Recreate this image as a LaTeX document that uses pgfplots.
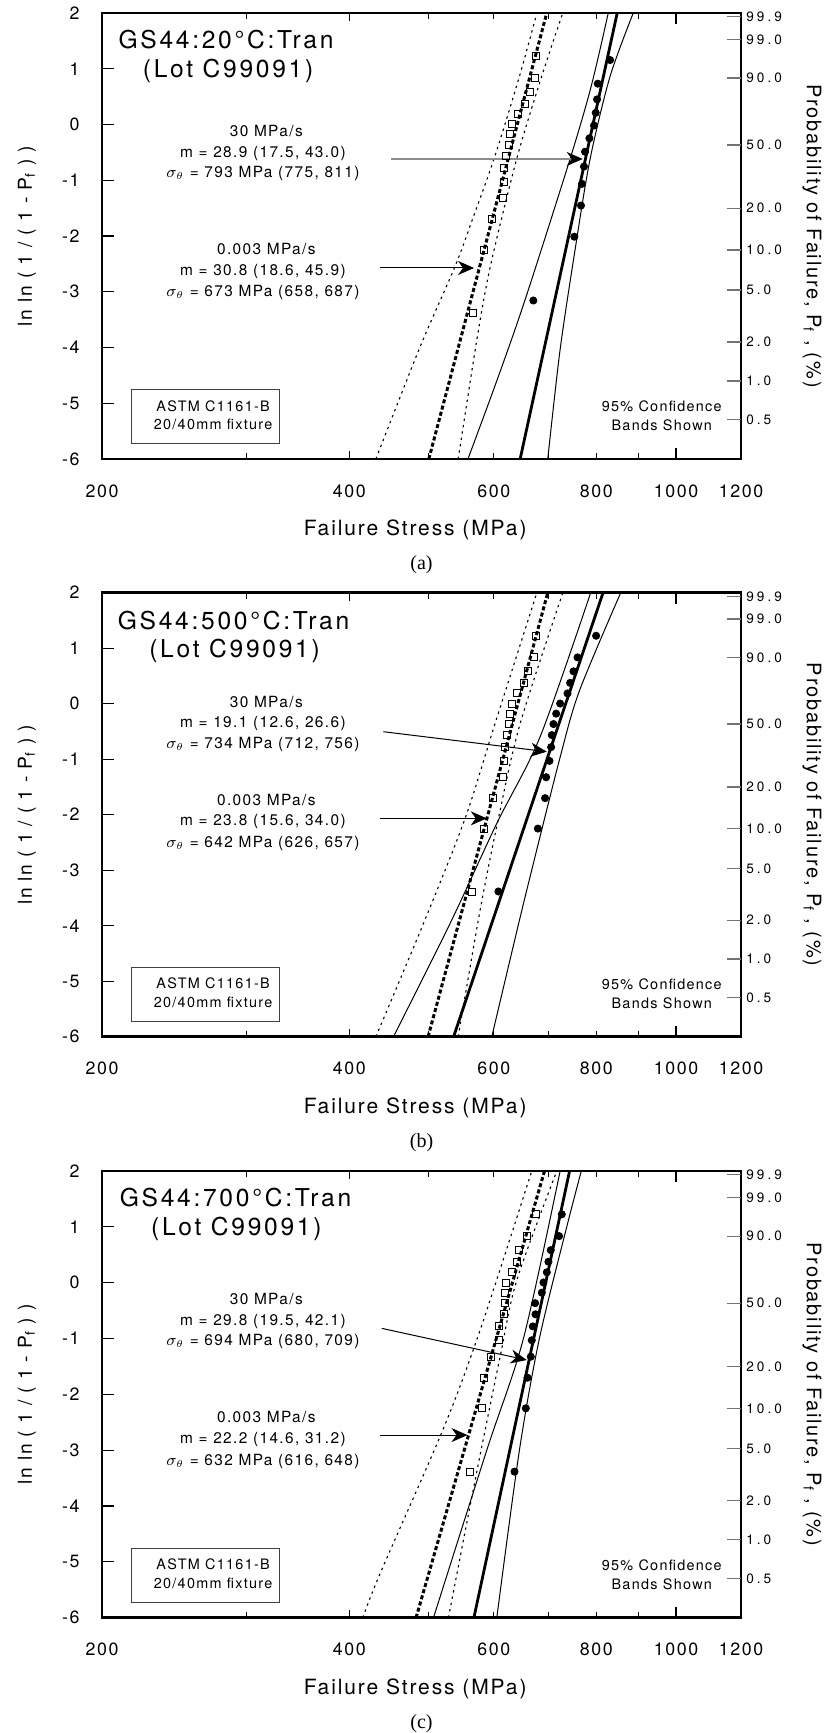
\documentclass[border=0pt]{standalone}
\usepackage{fontspec}
\setmainfont{TeX Gyre Heros}[LetterSpace=9]
\newfontfamily\widefont{TeX Gyre Heros}[LetterSpace=22]
\newfontfamily\titlefamily{TeX Gyre Heros}[LetterSpace=11]
\newfontfamily\seriffont{Liberation Serif}
\usepackage{pgfplots}
\pgfplotsset{compat=1.18}
\usetikzlibrary{arrows.meta}

\newcommand\tickfont{\fontsize{8.9}{10}\selectfont}
\newcommand\rtickfont{\widefont\fontsize{6.8}{8}\selectfont}
\newcommand\xlabfont{\fontsize{10.5}{12}\selectfont}
\newcommand\ylabfont{\fontsize{9.6}{12}\selectfont}
\newcommand\rlabfont{\fontsize{10}{12}\selectfont}
\newcommand\titfont{\titlefamily\fontsize{12.3}{14}\selectfont}
\newcommand\annfont{\fontsize{7.7}{9}\selectfont}
\newcommand\boxfont{\fontsize{7.2}{9}\selectfont}

\tikzset{
  wbband/.style={line width=0.5pt, black, smooth, tension=0.5},
  wbdot/.style={line width=0.55pt, black, dash pattern=on 1.2pt off 2pt, smooth, tension=0.5},
  wbfit/.style={line width=1.4pt, black},
  wbfitdash/.style={line width=1.5pt, black, dash pattern=on 2pt off 1.2pt},
  wbarr/.style={line width=0.5pt, black, -{Stealth[length=8pt, width=7pt, inset=2.5pt]}},
  wbarrg/.style={line width=0.6pt, black!45, -{Stealth[length=8pt, width=7pt, inset=2.5pt, black]}},
}

\newcommand\panelextras[1]{%
  \pgfplotsinvokeforeach{300,500,600,700,800,900}{%
    \draw[line width=0.6pt] (axis cs:##1,-6) -- ++(0pt,3pt);
    \draw[line width=0.6pt] (axis cs:##1,2) -- ++(0pt,-3pt);}%
  \pgfplotsinvokeforeach{400}{%
    \draw[line width=0.6pt] (axis cs:##1,-6) -- ++(0pt,4pt);
    \draw[line width=0.6pt] (axis cs:##1,2) -- ++(0pt,-4pt);}%
  \pgfplotsinvokeforeach{1000}{%
    \draw[line width=0.6pt] (axis cs:##1,-6) -- ++(0pt,5.5pt);
    \draw[line width=0.6pt] (axis cs:##1,2) -- ++(0pt,-5.5pt);}%
  \pgfplotsinvokeforeach{200,400,600,800,1000,1200}{%
    \node[font=\tickfont, yshift=-16pt] at (axis cs:##1,-6) {##1};}%
  \draw[line width=1.4pt] (rel axis cs:0,0) rectangle (rel axis cs:1,1);
  \node[font=\xlabfont, yshift=-35.5pt] at (rel axis cs:0.49,0) {Failure Stress (MPa)};
  \node[font=\seriffont\fontsize{10}{12}\selectfont, yshift=-53pt] at (rel axis cs:0.5,0) {(#1)};
  \node[font=\ylabfont, xshift=-37.5pt, rotate=90] at (rel axis cs:0,0.5) {ln ln ( 1 / ( 1 - P\textsubscript{f} ) )};
  \node[font=\rlabfont, xshift=35.5pt, rotate=-90] at (rel axis cs:1,0.5) {Probability of Failure, P\textsubscript{f} , (\%)};
  \draw[line width=0.5pt, black!75] (axis cs:217.5,-4.76) rectangle (axis cs:329.4,-5.72);
  \node[font=\boxfont, anchor=base] at (axis cs:273.1,-5.14) {ASTM C1161-B};
  \node[font=\boxfont, anchor=base] at (axis cs:273.1,-5.48) {20/40mm fixture};
  \node[font=\boxfont, anchor=base] at (axis cs:960.9,-5.15) {95\% Confidence};
  \node[font=\boxfont, anchor=base] at (axis cs:960.9,-5.49) {Bands Shown};
}

\begin{document}
\begin{tikzpicture}
\useasboundingbox (0,0) rectangle (414pt,866.5pt);

% ---------------- panel (a) ----------------
\begin{axis}[scale only axis, width=319.5pt, height=223pt, anchor=south west, at={(51pt,637pt)},
    xmode=log, xmin=200, xmax=1200, ymin=-6, ymax=2, clip=false,
    tick align=inside, xtick=\empty,
    ytick={-6,-5,-4,-3,-2,-1,0,1,2},
    yticklabels={-6,-5,-4,-3,-2,-1,0,1,2},
    ytick pos=left, major tick length=6pt,
    tick style={black, line width=0.6pt},
    yticklabel style={font=\tickfont, anchor=east, inner sep=0pt, xshift=-11pt}]
\addplot[wbdot] coordinates {(431,-6) (488,-3.985) (538,-2.55) (566.6,-1.654) (600.6,-0.607) (644.5,0.857) (677,2)};
\addplot[wbdot] coordinates {(543,-6) (572.4,-3.84) (595.3,-2.49) (640,-0.607) (686,0.857) (728,2)};
\addplot[wbband] coordinates {(558,-6) (605.6,-4.58) (654.8,-3.148) (743,-0.619) (788.6,0.69) (827,2)};
\addplot[wbband] coordinates {(698,-6) (722.5,-4.045) (753.5,-2.25) (786,-0.619) (831,0.857) (887,2)};
\addplot[wbfitdash] coordinates {(500,-6) (696,2)};
\addplot[wbfit] coordinates {(646,-6) (848,2)};
\addplot[only marks, mark=square, mark size=1.75pt, mark options={black, line width=0.5pt, solid}] coordinates {(565.3,-3.384) (584,-2.25) (597.6,-1.702) (616.4,-1.325) (617,-1.031) (618.2,-0.783) (620.6,-0.566) (626,-0.367) (627.8,-0.179) (632,0.003) (642.4,0.186) (654,0.375) (663.5,0.583) (673.6,0.834) (675.5,1.224)};
\addplot[only marks, mark=*, mark size=1.8pt, mark options={black, fill=black}] coordinates {(670.3,-3.157) (752,-2.013) (766.2,-1.454) (768.4,-1.065) (772.7,-0.755) (774.9,-0.489) (784.4,-0.248) (794.7,-0.019) (798.5,0.209) (801.4,0.450) (803,0.732) (831.2,1.156)};
\draw[wbarrg] (axis cs:449.8,-0.619) -- (axis cs:770,-0.619);
\draw[wbarr] (axis cs:436.2,-2.574) -- (axis cs:567.6,-2.574);
\node[font=\titfont, anchor=base] at (axis cs:283.2,1.36) {GS44:20°C:Tran};
\node[font=\titfont, anchor=base] at (axis cs:284.8,0.84) {(Lot C99091)};
\node[font=\annfont, anchor=base] at (axis cs:317,-0.207) {30 MPa/s};
\node[font=\annfont, anchor=base] at (axis cs:314,-0.584) {m = 28.9 (17.5, 43.0)};
\node[font=\annfont, anchor=base] at (axis cs:314,-0.96) {$\sigma_{\theta}$ = 793 MPa (775, 811)};
\node[font=\annfont, anchor=base] at (axis cs:317,-2.341) {0.003 MPa/s};
\node[font=\annfont, anchor=base] at (axis cs:314,-2.70) {m = 30.8 (18.6, 45.9)};
\node[font=\annfont, anchor=base] at (axis cs:314,-3.094) {$\sigma_{\theta}$ = 673 MPa (658, 687)};
\panelextras{a}
\end{axis}
\begin{axis}[scale only axis, width=319.5pt, height=223pt, anchor=south west, at={(51pt,637pt)},
    xmode=log, xmin=200, xmax=1200, ymin=-6, ymax=2,
    axis x line=none, axis y line*=right,
    tick align=inside, major tick length=7pt, xtick=\empty,
    tick style={black!55, line width=0.6pt},
    ytick={1.93264,1.52718,0.83403,-0.36651,-1.49994,-2.25037,-2.97020,-3.90194,-4.60015,-5.29581},
    yticklabels={99.9,99.0,90.0,50.0,20.0,10.0,5.0,2.0,1.0,0.5},
    yticklabel style={font=\rtickfont, anchor=west, inner sep=0pt, xshift=2.5pt}]
\addplot[draw=none] coordinates {(300,0)};
\end{axis}

% ---------------- panel (b) ----------------
\begin{axis}[scale only axis, width=319.5pt, height=222pt, anchor=south west, at={(51pt,348.15pt)},
    xmode=log, xmin=200, xmax=1200, ymin=-6, ymax=2, clip=false,
    tick align=inside, xtick=\empty,
    ytick={-6,-5,-4,-3,-2,-1,0,1,2},
    yticklabels={-6,-5,-4,-3,-2,-1,0,1,2},
    ytick pos=left, major tick length=6pt,
    tick style={black, line width=0.6pt},
    yticklabel style={font=\tickfont, anchor=east, inner sep=0pt, xshift=-11pt}]
\addplot[wbdot] coordinates {(431,-6) (492.6,-3.958) (553.6,-2.066) (602.2,-0.354) (676.9,2)};
\addplot[wbdot] coordinates {(542.9,-6) (577.4,-3.718) (607.8,-2.066) (646.1,-0.354) (728.1,2)};
\addplot[wbband] coordinates {(452.8,-6) (530.8,-3.958) (605,-2.156) (683.2,-0.595) (787.3,2)};
\addplot[wbband] coordinates {(596.6,-6) (622.2,-4.859) (658.1,-3.357) (722.9,-0.955) (763.5,0.246) (856.4,2)};
\addplot[wbfitdash] coordinates {(499,-6) (698,2)};
\addplot[wbfit] coordinates {(536,-6) (815,2)};
\addplot[only marks, mark=square, mark size=1.75pt, mark options={black, line width=0.5pt, solid}] coordinates {(564.0,-3.384) (583.9,-2.25) (598.3,-1.702) (616.4,-1.325) (617.6,-1.031) (619.3,-0.783) (622.2,-0.566) (626.9,-0.367) (628.1,-0.179) (631,0.003) (640,0.186) (653.2,0.375) (661.2,0.583) (671.8,0.834) (675.6,1.224)};
\addplot[only marks, mark=*, mark size=1.8pt, mark options={black, fill=black}] coordinates {(607.8,-3.384) (678.8,-2.25) (692.8,-1.702) (694.8,-1.325) (701.3,-1.031) (704.6,-0.783) (705.9,-0.566) (709.2,-0.367) (714.6,-0.179) (722.6,0.003) (737.7,0.186) (743.2,0.375) (750.2,0.583) (758.7,0.834) (799.4,1.224)};
\draw[wbarr] (axis cs:440.3,-0.505) -- (axis cs:696.1,-0.865);
\draw[wbarr] (axis cs:436.2,-2.066) -- (axis cs:588.3,-2.066);
\node[font=\titfont, anchor=base] at (axis cs:289.2,1.34) {GS44:500°C:Tran};
\node[font=\titfont, anchor=base] at (axis cs:290,0.83) {(Lot C99091)};
\node[font=\annfont, anchor=base] at (axis cs:317,-0.065) {30 MPa/s};
\node[font=\annfont, anchor=base] at (axis cs:314,-0.432) {m = 19.1 (12.6, 26.6)};
\node[font=\annfont, anchor=base] at (axis cs:314,-0.804) {$\sigma_{\theta}$ = 734 MPa (712, 756)};
\node[font=\annfont, anchor=base] at (axis cs:317,-1.838) {0.003 MPa/s};
\node[font=\annfont, anchor=base] at (axis cs:314,-2.198) {m = 23.8 (15.6, 34.0)};
\node[font=\annfont, anchor=base] at (axis cs:314,-2.595) {$\sigma_{\theta}$ = 642 MPa (626, 657)};
\panelextras{b}
\end{axis}
\begin{axis}[scale only axis, width=319.5pt, height=222pt, anchor=south west, at={(51pt,348.15pt)},
    xmode=log, xmin=200, xmax=1200, ymin=-6, ymax=2,
    axis x line=none, axis y line*=right,
    tick align=inside, major tick length=7pt, xtick=\empty,
    tick style={black!55, line width=0.6pt},
    ytick={1.93264,1.52718,0.83403,-0.36651,-1.49994,-2.25037,-2.97020,-3.90194,-4.60015,-5.29581},
    yticklabels={99.9,99.0,90.0,50.0,20.0,10.0,5.0,2.0,1.0,0.5},
    yticklabel style={font=\rtickfont, anchor=west, inner sep=0pt, xshift=2.5pt}]
\addplot[draw=none] coordinates {(300,0)};
\end{axis}

% ---------------- panel (c) ----------------
\begin{axis}[scale only axis, width=319.5pt, height=223.35pt, anchor=south west, at={(51pt,57.65pt)},
    xmode=log, xmin=200, xmax=1200, ymin=-6, ymax=2, clip=false,
    tick align=inside, xtick=\empty,
    ytick={-6,-5,-4,-3,-2,-1,0,1,2},
    yticklabels={-6,-5,-4,-3,-2,-1,0,1,2},
    ytick pos=left, major tick length=6pt,
    tick style={black, line width=0.6pt},
    yticklabel style={font=\tickfont, anchor=east, inner sep=0pt, xshift=-11pt}]
\addplot[wbdot] coordinates {(415.5,-6) (436.2,-5.208) (521,-2.609) (577.4,-0.848) (667.4,2)};
\addplot[wbdot] coordinates {(528.3,-6) (572,-3.387) (610.7,-1.326) (640,0.048) (715.9,2)};
\addplot[wbband] coordinates {(506.6,-6) (588.3,-2.998) (652,-0.997) (722.6,2)};
\addplot[wbband] coordinates {(605,-6) (644.7,-2.998) (681.9,-0.997) (736.3,1.005) (766.9,2)};
\addplot[wbfitdash] coordinates {(482.4,-6) (691.6,2)};
\addplot[wbfit] coordinates {(567.4,-6) (742,2)};
\addplot[only marks, mark=square, mark size=1.75pt, mark options={black, line width=0.5pt, solid}] coordinates {(561.4,-3.384) (580.6,-2.25) (583.9,-1.702) (594.9,-1.325) (609.5,-1.031) (609.5,-0.783) (617.6,-0.566) (619.3,-0.367) (619.3,-0.179) (621.1,0.003) (631,0.186) (640,0.375) (644.7,0.583) (658.1,0.834) (675.6,1.224)};
\addplot[only marks, mark=*, mark size=1.8pt, mark options={black, fill=black}] coordinates {(635.8,-3.384) (656.3,-2.25) (659.4,-1.702) (665.6,-1.325) (667.4,-1.031) (669.3,-0.783) (674.3,-0.566) (673.7,-0.367) (686.4,-0.179) (689.6,0.003) (696.1,0.186) (699.3,0.375) (703.9,0.583) (720.6,0.834) (726,1.224)};
\draw[wbarr] (axis cs:438.2,-0.818) -- (axis cs:658,-1.385);
\draw[wbarr] (axis cs:436.2,-2.729) -- (axis cs:557.3,-2.729);
\node[font=\titfont, anchor=base] at (axis cs:290.8,1.37) {GS44:700°C:Tran};
\node[font=\titfont, anchor=base] at (axis cs:291.5,0.84) {(Lot C99091)};
\node[font=\annfont, anchor=base] at (axis cs:317,-0.388) {30 MPa/s};
\node[font=\annfont, anchor=base] at (axis cs:314,-0.758) {m = 29.8 (19.5, 42.1)};
\node[font=\annfont, anchor=base] at (axis cs:314,-1.129) {$\sigma_{\theta}$ = 694 MPa (680, 709)};
\node[font=\annfont, anchor=base] at (axis cs:317,-2.509) {0.003 MPa/s};
\node[font=\annfont, anchor=base] at (axis cs:314,-2.88) {m = 22.2 (14.6, 31.2)};
\node[font=\annfont, anchor=base] at (axis cs:314,-3.267) {$\sigma_{\theta}$ = 632 MPa (616, 648)};
\panelextras{c}
\end{axis}
\begin{axis}[scale only axis, width=319.5pt, height=223.35pt, anchor=south west, at={(51pt,57.65pt)},
    xmode=log, xmin=200, xmax=1200, ymin=-6, ymax=2,
    axis x line=none, axis y line*=right,
    tick align=inside, major tick length=7pt, xtick=\empty,
    tick style={black!55, line width=0.6pt},
    ytick={1.93264,1.52718,0.83403,-0.36651,-1.49994,-2.25037,-2.97020,-3.90194,-4.60015,-5.29581},
    yticklabels={99.9,99.0,90.0,50.0,20.0,10.0,5.0,2.0,1.0,0.5},
    yticklabel style={font=\rtickfont, anchor=west, inner sep=0pt, xshift=2.5pt}]
\addplot[draw=none] coordinates {(300,0)};
\end{axis}
\end{tikzpicture}
\end{document}
